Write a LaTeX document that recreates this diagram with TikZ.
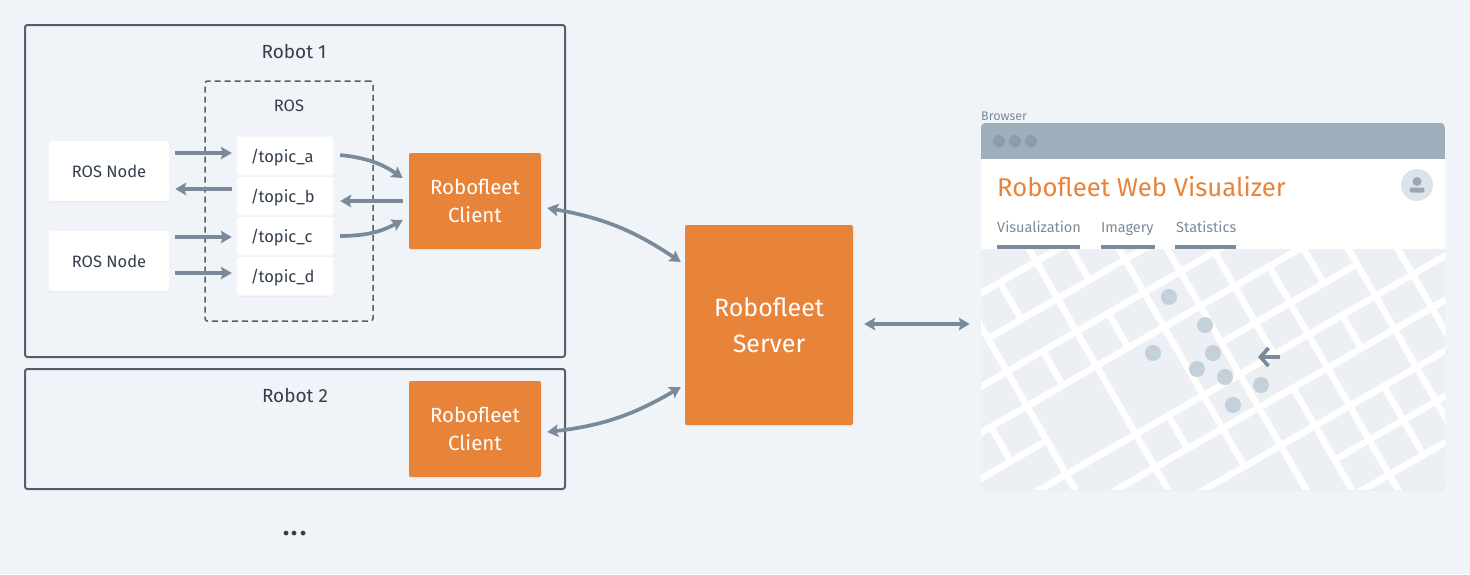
\documentclass[tikz,border=0pt]{standalone}
\usepackage{fontspec}
\setmainfont{Fira Sans}
\usetikzlibrary{arrows.meta,shadows}
\definecolor{pagebg}{HTML}{F0F4F8}
\definecolor{frameline}{HTML}{52606D}
\definecolor{linkgrey}{HTML}{7B8A9A}
\definecolor{labeltext}{HTML}{323F4B}
\definecolor{fleetorange}{HTML}{E8833A}
\definecolor{titlebar}{HTML}{9FAEBB}
\definecolor{titledot}{HTML}{8B9DAD}
\definecolor{mapground}{HTML}{ECF0F5}
\definecolor{mapdot}{HTML}{C4D0DA}
\definecolor{avatarbg}{HTML}{DDE3EB}
\def\browseroutline{(981,123) rectangle (1445,489)}
\def\mapoutline{(981,249) rectangle (1445,489)}
\tikzset{
  framebox/.style={draw=frameline,line width=2pt,rounded corners=2.5pt,inner sep=0pt},
  softshadow/.style={drop shadow={shadow xshift=0pt,shadow yshift=-1.5pt,opacity=.05,fill=black!60}},
  whitebox/.style={fill=white,rounded corners=2pt,inner sep=0pt,text=labeltext,softshadow},
  fleetbox/.style={fill=fleetorange,rounded corners=2pt,inner sep=0pt,text=white,align=center,softshadow},
  link/.style={draw=linkgrey,line width=3.7pt,>={Stealth[length=11pt,width=12.5pt,inset=2pt]}},
  street/.style={draw=white,line width=6.5pt},
  heading/.style={text=labeltext,font=\fontsize{19}{22}\selectfont},
  small/.style={font=\fontsize{16.5}{20}\selectfont,text height=12pt,text depth=0pt},
  tabtext/.style={anchor=base west,text=linkgrey,inner sep=0pt,font=\fontsize{14.5}{18}\selectfont},
  tabbar/.style={fill=linkgrey},
}
\begin{document}
\begin{tikzpicture}[x=1pt,y=-1pt]
   \useasboundingbox (0,0) rectangle (1470,574);
   \fill[pagebg] (0,0) rectangle (1470,574);

   % robots
   \node[framebox,minimum width=540pt,minimum height=332pt] (robotone) at (295,191) {};
   \node[framebox,minimum width=540pt,minimum height=120pt] (robottwo) at (295,429) {};
   \node[heading] (robotonelabel) at (294,51) {Robot 1};
   \node[heading] (robottwolabel) at (295,395) {Robot 2};
   \node[draw=frameline,dash pattern=on 6pt off 4pt,line width=1.5pt,rounded corners=2.5pt,inner sep=0pt,minimum width=168pt,minimum height=240pt] (rosgroup) at (289,201) {};
   \node[text=labeltext,small] (roslabel) at (289,105) {ROS};

   \node[whitebox,small,minimum width=120pt,minimum height=60pt] (nodeone) at (109,171) {ROS Node};
   \node[whitebox,small,minimum width=120pt,minimum height=60pt] (nodetwo) at (109,261) {ROS Node};
   \foreach \topicname/\ypos in {a/156,b/196,c/236,d/276}
      \node[whitebox,small,minimum width=96pt,minimum height=39pt,text width=69pt] (topic\topicname) at (285,\ypos) {/topic\_\topicname};

   \node[fleetbox,minimum width=132pt,minimum height=96pt,font=\fontsize{20.5}{28}\selectfont] (clientone) at (475,201) {Robofleet\\Client};
   \node[fleetbox,minimum width=132pt,minimum height=96pt,font=\fontsize{20.5}{28}\selectfont] (clienttwo) at (475,429) {Robofleet\\Client};
   \node[fleetbox,minimum width=168pt,minimum height=200pt,font=\fontsize{25}{36}\selectfont] (server) at (769,325) {Robofleet\\Server};

   % browser window
   \node[fill=white,rounded corners=3pt,inner sep=0pt,minimum width=464pt,minimum height=366pt,drop shadow={shadow xshift=0pt,shadow yshift=-1.5pt,opacity=.05,fill=black!60}] (browser) at (1213,306) {};
   \begin{scope}
      \clip[rounded corners=4pt] \browseroutline;
      \fill[titlebar] (981,123) rectangle (1445,159);
   \end{scope}
   \foreach \xpos in {999,1015,1031}
      \fill[titledot] (\xpos,141) circle (6);
   \node[anchor=base west,inner sep=0pt,text=linkgrey,font=\fontsize{12.5}{14}\selectfont] (browserlabel) at (981,120) {Browser};
   \node[anchor=base west,inner sep=0pt,text=fleetorange,font=\fontsize{25.7}{32}\selectfont] (webtitle) at (997,196) {Robofleet Web Visualizer};
   \fill[avatarbg] (1417,185) circle (16);
   \fill[linkgrey!75] (1417,181.5) circle (4.5);
   \fill[linkgrey!75,rounded corners=2pt] (1409.5,192.5) -- (1409.5,187.5) -- (1424.5,187.5) -- (1424.5,192.5) -- cycle;
   \node[tabtext] (tabvis) at (997,232) {Visualization};
   \node[tabtext] (tabimg) at (1101,232) {Imagery};
   \node[tabtext] (tabstat) at (1176,232) {Statistics};
   \fill[tabbar] (997,245) rectangle (1080,249);
   \fill[tabbar] (1101,245) rectangle (1155,249);
   \fill[tabbar] (1175,245) rectangle (1236,249);

   % map, street coordinates are (across,along) the two street directions
   \begin{scope}
      \clip \mapoutline;
      \fill[mapground] \mapoutline;
      \begin{scope}[shift={(970,245)},x={(0.25pt,0.1443pt)},y={(0.1443pt,-0.25pt)}]
         \foreach \along/\from/\to in {164/-800/1700,312/-108/1700,444/-800/1700,582/-800/1700,720/-800/-108,728/585/1128,855/-800/1700,988/-800/1700,1140/-800/1700,1276/722/1700,1415/-800/1700}
            \draw[street] (\from,\along) -- (\to,\along);
         \foreach \across/\from/\to in {-252/582/720,-108/-100/2200,25/164/312,35/444/582,170/-100/2200,297/-100/312,297/444/582,300/855/988,440/-100/1140,585/-100/2200,722/444/855,722/988/2200,860/582/2200,995/582/728,995/855/988,997/1140/1415,1128/-100/2200,1277/-100/2200}
            \draw[street] (\across,\from) -- (\across,\to);
      \end{scope}
   \end{scope}
   \foreach \xpos/\ypos in {1169/297,1205/325,1153/353,1213/353,1197/369,1225/377,1261/385,1233/405}
      \fill[mapdot] (\xpos,\ypos) circle (8);
   \node[inner sep=0pt,minimum size=1pt] (marker) at (1281,357) {};
   \coordinate (markertip) at (1258,357);
   \draw[draw=linkgrey,line width=3.7pt,-{Straight Barb[length=8pt,width=18pt]}] (marker) -- (markertip);

   % links
   \draw[link,->] ([shift={(6,-18)}]nodeone.east) -- ([shift={(-5,-3)}]topica.west);
   \draw[link,->] ([shift={(-5,-7)}]topicb.west) -- ([shift={(6,18)}]nodeone.east);
   \draw[link,->] ([shift={(6,-24)}]nodetwo.east) -- ([shift={(-5,1)}]topicc.west);
   \draw[link,->] ([shift={(6,12)}]nodetwo.east) -- ([shift={(-5,-3)}]topicd.west);
   \draw[link,->] ([shift={(7,-1)}]topica.east) to[bend left=14] ([shift={(-6,-23)}]clientone.west);
   \draw[link,->] ([shift={(-6,0)}]clientone.west) -- ([shift={(7,5)}]topicb.east);
   \draw[link,->] ([shift={(7,0)}]topicc.east) to[bend right=14] ([shift={(-6,19)}]clientone.west);
   \draw[link,<->] ([shift={(6,7)}]clientone.east) to[bend left=12] ([shift={(-4,-63)}]server.west);
   \draw[link,<->] ([shift={(6,3)}]clienttwo.east) to[bend right=12] ([shift={(-4,62)}]server.west);
   \draw[link,<->] ([shift={(11,-1)}]server.east) -- ([shift={(-11,18)}]browser.west);

   \node[text=labeltext,inner sep=0pt,font=\fontsize{34}{36}\selectfont] (moredots) at (295,534) {...};
\end{tikzpicture}
\end{document}
